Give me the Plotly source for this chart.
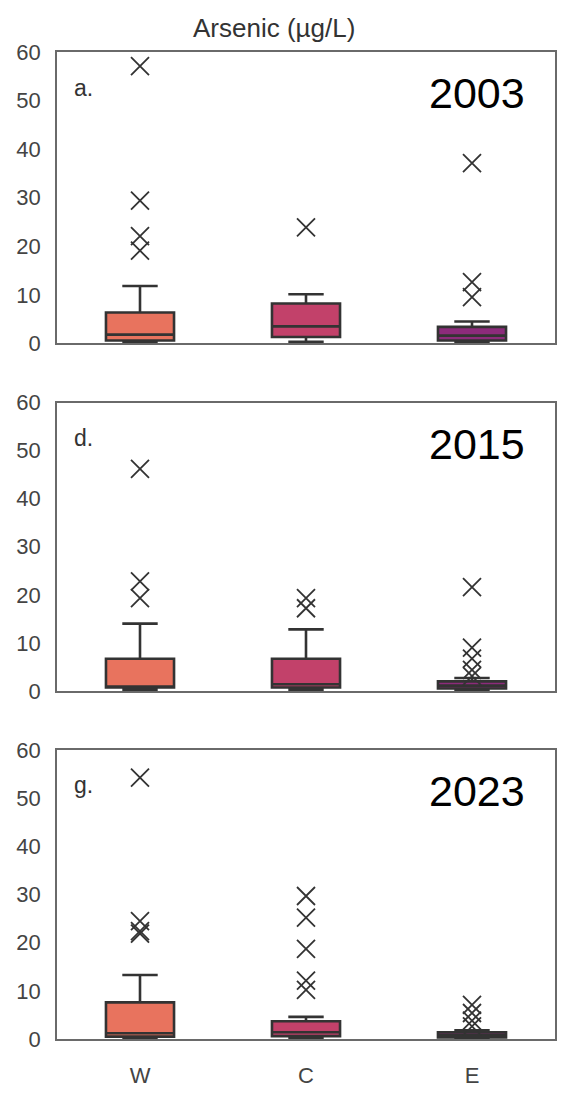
import plotly.graph_objects as go

# Sampling zones and survey years
categories = ["W", "C", "E"]
years = ["2003", "2015", "2023"]
panel_letters = ["a.", "d.", "g."]
y_ticks = [0, 10, 20, 30, 40, 50, 60]

# Box statistics (arsenic, µg/L) per zone, one list per year
lower_2003 = [0.2, 0.3, 0.2]
q1_2003 = [0.6, 1.3, 0.6]
median_2003 = [1.8, 3.5, 1.6]
q3_2003 = [6.35, 8.2, 3.4]
upper_2003 = [11.8, 10.1, 4.5]

lower_2015 = [0.2, 0.2, 0.2]
q1_2015 = [0.7, 0.7, 0.5]
median_2015 = [0.9, 1.4, 1.1]
q3_2015 = [6.7, 6.7, 2.0]
upper_2015 = [14.0, 12.8, 2.7]

lower_2023 = [0.2, 0.2, 0.1]
q1_2023 = [0.5, 0.6, 0.3]
median_2023 = [1.2, 1.4, 0.8]
q3_2023 = [7.6, 3.7, 1.4]
upper_2023 = [13.3, 4.6, 1.8]

# Outlying samples per zone (W, C, E)
outliers_2003 = [[57.1, 29.4, 22.1, 19.1], [23.9], [37.1, 12.6, 9.5]]
outliers_2015 = [[46.2, 22.8, 19.3], [19.3, 17.2], [21.6, 9.0, 6.7, 4.4, 3.1]]
outliers_2023 = [[54.3, 24.5, 22.4, 21.9], [29.7, 25.2, 18.7, 12.1, 10.2], [7.1, 5.4, 3.8, 2.6]]

stats = [
    (lower_2003, q1_2003, median_2003, q3_2003, upper_2003, outliers_2003),
    (lower_2015, q1_2015, median_2015, q3_2015, upper_2015, outliers_2015),
    (lower_2023, q1_2023, median_2023, q3_2023, upper_2023, outliers_2023),
]

zone_colors = ["#E8735E", "#C2416A", "#8C2B7B"]
edge = "#333333"
frame = "#6a6a6a"
font_family = "Liberation Sans, Arial, sans-serif"

W, H = 565, 1096
m_l, m_r, m_t, m_b = 57, 8, 52, 43
plot_h = H - m_t - m_b
# panel pixel bounds (top, bottom)
panels_px = [(52, 347.5), (407.5, 700), (760, 1053)]
domains = [[(H - m_b - b) / plot_h, (H - m_b - t) / plot_h] for t, b in panels_px]
domains[0][1] = 1.0
domains[2][0] = 0.0

fig = go.Figure()

for p, (lo, q1, med, q3, up, outs) in enumerate(stats):
    xa = "x" if p == 0 else f"x{p + 1}"
    ya = "y" if p == 0 else f"y{p + 1}"
    for i, cat in enumerate(categories):
        fig.add_trace(go.Box(
            x=[cat], q1=[q1[i]], median=[med[i]], q3=[q3[i]],
            lowerfence=[lo[i]], upperfence=[up[i]],
            width=0.41, whiskerwidth=0.52,
            fillcolor=zone_colors[i],
            line=dict(color=edge, width=2.6),
            boxpoints=False, showlegend=False, hoverinfo="skip",
            xaxis=xa, yaxis=ya,
        ))
        fig.add_trace(go.Scatter(
            x=[cat] * len(outs[i]), y=outs[i], mode="markers",
            marker=dict(symbol="x-thin", size=18,
                        line=dict(color=edge, width=1.8)),
            showlegend=False, hoverinfo="skip",
            xaxis=xa, yaxis=ya,
        ))

    suffix = "" if p == 0 else str(p + 1)
    fig.layout[f"xaxis{suffix}"] = dict(
        domain=[0, 1], anchor=ya, type="category",
        categoryorder="array", categoryarray=categories,
        range=[-0.5, 2.5],
        showline=True, mirror=True, linecolor=frame, linewidth=1.5,
        showgrid=False, zeroline=False,
        showticklabels=(p == 2),
        ticks="outside" if p == 2 else "", ticklen=16,
        tickcolor="rgba(0,0,0,0)",
        tickfont=dict(size=22, color="#444444", family=font_family),
    )
    fig.layout[f"yaxis{suffix}"] = dict(
        domain=domains[p], anchor=xa, range=[0, 60],
        tickvals=y_ticks,
        showline=True, mirror=True, linecolor=frame, linewidth=1.5,
        showgrid=False, zeroline=False,
        ticks="outside", ticklen=10, tickcolor="rgba(0,0,0,0)",
        tickfont=dict(size=22, color="#444444", family=font_family),
    )

    xd = "x domain" if p == 0 else f"x{p + 1} domain"
    yd = "y domain" if p == 0 else f"y{p + 1} domain"
    fig.add_annotation(
        text=panel_letters[p], xref=xd, yref=yd, x=0.03, y=1 - 36 / 295,
        xanchor="left", yanchor="middle", showarrow=False,
        font=dict(size=23, color="#333333", family=font_family),
    )
    fig.add_annotation(
        text=years[p], xref=xd, yref=yd, x=0.844, y=1 - 42 / 295,
        xanchor="center", yanchor="middle", showarrow=False,
        font=dict(size=43, color="#000000", family=font_family),
    )

fig.add_annotation(
    text="Arsenic (µg/L)", xref="paper", yref="paper",
    x=(275 - m_l) / (W - m_l - m_r), y=1 + 24 / plot_h,
    xanchor="center", yanchor="middle", showarrow=False,
    font=dict(size=26, color="#333333", family=font_family),
)

fig.update_layout(
    width=W, height=H,
    margin=dict(l=m_l, r=m_r, t=m_t, b=m_b),
    paper_bgcolor="white", plot_bgcolor="white",
    boxgap=0, boxgroupgap=0,
)

fig.write_html("out.html")
